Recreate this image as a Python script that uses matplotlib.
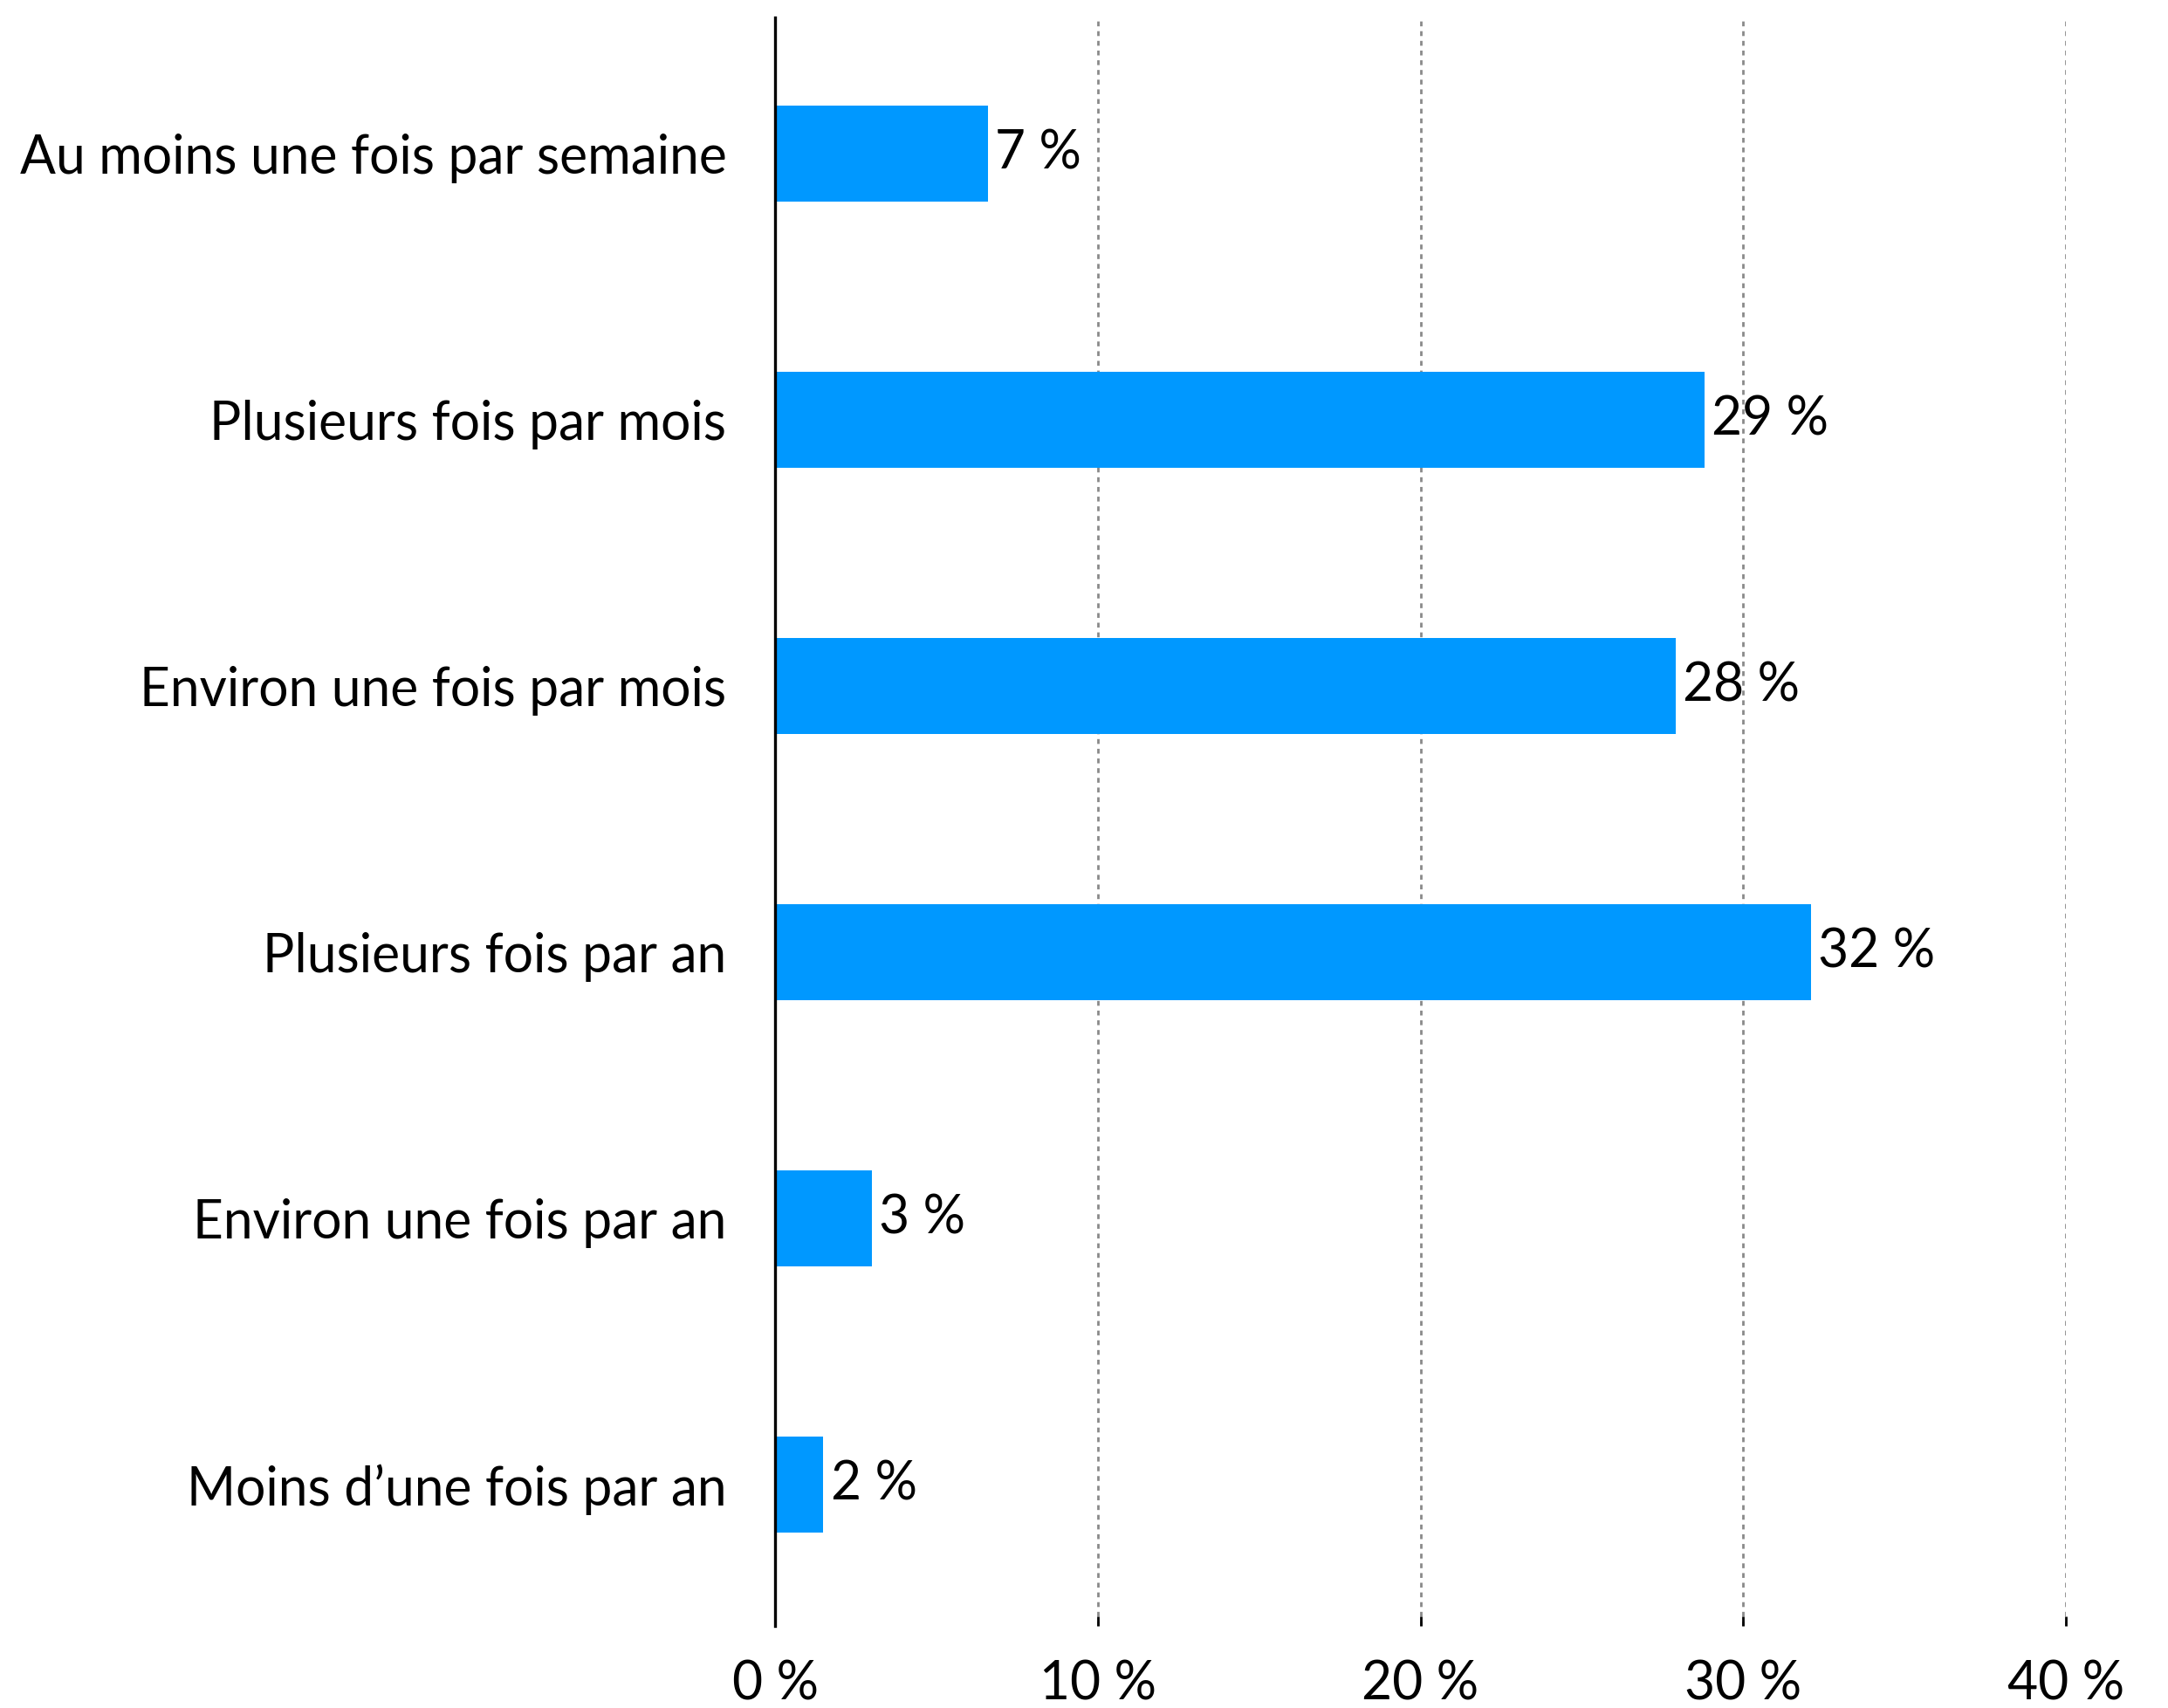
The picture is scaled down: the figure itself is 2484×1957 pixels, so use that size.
import matplotlib

matplotlib.use("Agg")
import matplotlib.pyplot as plt

plt.rcParams["font.family"] = ["Lato", "DejaVu Sans"]

categories = [
    "Au moins une fois par semaine",
    "Plusieurs fois par mois",
    "Environ une fois par mois",
    "Plusieurs fois par an",
    "Environ une fois par an",
    "Moins d\u2019une fois par an",
]
shares = [6.6, 28.8, 27.9, 32.1, 3.0, 1.5]
x_ticks = [0, 10, 20, 30, 40]

BAR_COLOR = "#0098FF"
FONT_SIZE = 21.8

fig = plt.figure(figsize=(12.42, 9.785), dpi=200)
ax = fig.add_axes([0.3575, 0.048, 0.9529 - 0.3575, 0.9898 - 0.048])

ypos = list(range(len(categories)))
ax.barh(ypos, shares, height=0.36, color=BAR_COLOR, zorder=3)

# valeur arrondie juste au bout de chaque barre
for y, v in zip(ypos, shares):
    ax.annotate(f"{v:.0f} %", xy=(v, y), xytext=(3, 0), textcoords="offset points",
                ha="left", va="center", fontsize=FONT_SIZE, color="black")

ax.set_xlim(0, 40)
ax.set_ylim(5.531, -0.511)
ax.set_yticks(ypos)
ax.set_yticklabels(categories, fontsize=FONT_SIZE)
ax.set_xticks(x_ticks)
ax.set_xticklabels([f"{t} %" for t in x_ticks], fontsize=FONT_SIZE)

ax.tick_params(axis="y", length=0, pad=20)
ax.tick_params(axis="x", direction="in", length=4, width=1, color="black", pad=14)

for t in x_ticks[1:]:
    ax.axvline(t, color="#8a8a8a", linestyle=(0, (2, 2)), linewidth=1, zorder=1)

for side in ["top", "right", "bottom"]:
    ax.spines[side].set_visible(False)
ax.spines["left"].set_linewidth(1.2)
ax.spines["left"].set_zorder(4)

fig.savefig("out.png", dpi=200, facecolor="white")
